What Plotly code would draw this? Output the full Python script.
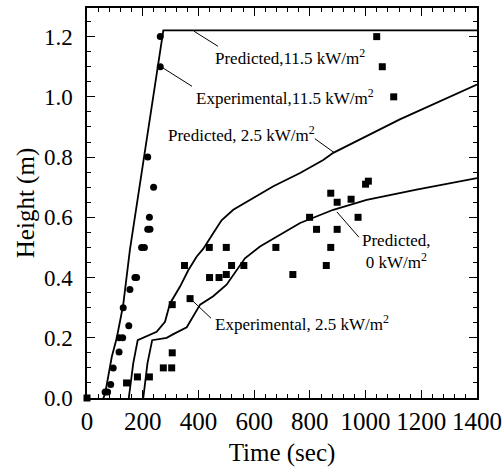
import plotly.graph_objects as go

# Experimental, 11.5 kW/m2 (circles)
exp115_t = [65, 74, 85, 94, 115, 116, 128, 150, 130, 154, 172, 178, 196, 206, 218, 226, 224, 239, 218, 263, 263]
exp115_h = [0.02, 0.02, 0.045, 0.10, 0.153, 0.20, 0.20, 0.24, 0.30, 0.36, 0.40, 0.40, 0.50, 0.50, 0.56, 0.56, 0.60, 0.70, 0.80, 1.10, 1.20]

# Experimental, 2.5 kW/m2 (squares)
exp25_t = [0, 142, 181, 224, 274, 304, 306, 306, 370, 350, 440, 474, 439, 500, 500, 519, 563,
           678, 739, 799, 824, 859, 875, 875, 898, 898, 948, 973, 1000, 1010, 1040, 1060, 1101]
exp25_h = [0.0, 0.05, 0.07, 0.07, 0.10, 0.10, 0.15, 0.31, 0.33, 0.44, 0.40, 0.40, 0.50, 0.50, 0.41, 0.44, 0.44,
           0.50, 0.41, 0.60, 0.56, 0.44, 0.50, 0.68, 0.65, 0.56, 0.66, 0.60, 0.71, 0.72, 1.20, 1.10, 1.00]

# Predicted, 11.5 kW/m2
pred115_t = [59, 65, 76, 89, 107, 130, 154, 202, 274, 1400]
pred115_h = [0.0, 0.015, 0.07, 0.137, 0.20, 0.309, 0.492, 0.79, 1.221, 1.221]

# Predicted, 2.5 kW/m2
pred25_t = [150, 166, 182, 202, 250, 280, 298, 334, 364, 394, 417, 453, 483, 525, 585, 669, 765, 848, 884, 1123, 1400]
pred25_h = [0.0, 0.115, 0.192, 0.20, 0.22, 0.253, 0.314, 0.37, 0.425, 0.47, 0.495, 0.547, 0.59, 0.625, 0.658, 0.703, 0.747, 0.79, 0.814, 0.925, 1.041]

# Predicted, 0 kW/m2
pred0_t = [202, 217, 234, 286, 310, 358, 406, 453, 501, 537, 567, 621, 681, 765, 884, 1004, 1183, 1400]
pred0_h = [0.0, 0.115, 0.192, 0.20, 0.212, 0.235, 0.31, 0.338, 0.376, 0.425, 0.464, 0.503, 0.536, 0.581, 0.625, 0.658, 0.692, 0.73]

x_ticks = [0, 200, 400, 600, 800, 1000, 1200, 1400]
y_ticks = [0.0, 0.2, 0.4, 0.6, 0.8, 1.0, 1.2]
y_ticklabels = ["0.0", "0.2", "0.4", "0.6", "0.8", "1.0", "1.2"]

FONT = "Liberation Serif"

fig = go.Figure()
line_style = dict(color="black", width=1.8)
for t, h in [(pred115_t, pred115_h), (pred25_t, pred25_h), (pred0_t, pred0_h)]:
    fig.add_trace(go.Scatter(x=t, y=h, mode="lines", line=line_style, showlegend=False, cliponaxis=False))

fig.add_trace(go.Scatter(x=exp115_t, y=exp115_h, mode="markers",
                         marker=dict(symbol="circle", size=7, color="black"),
                         showlegend=False, cliponaxis=False))
fig.add_trace(go.Scatter(x=exp25_t, y=exp25_h, mode="markers",
                         marker=dict(symbol="square", size=7, color="black"),
                         showlegend=False, cliponaxis=False))

ann_font = dict(family=FONT, size=17, color="black")
labels = [
    (452, 1.131, "Predicted,11.5 kW/m<sup>2</sup>", "left"),
    (384, 1.001, "Experimental,11.5 kW/m<sup>2</sup>", "left"),
    (284, 0.875, "Predicted, 2.5 kW/m<sup>2</sup>", "left"),
    (980, 0.488, "Predicted,<br>0 kW/m<sup>2</sup>", "center"),
    (452, 0.249, "Experimental, 2.5 kW/m<sup>2</sup>", "left"),
]
for x, y, txt, al in labels:
    fig.add_annotation(x=x, y=y, text=txt, showarrow=False, xanchor="left",
                       yanchor="middle", align=al, font=ann_font)

leaders = [
    (384, 1.218, 470, 1.168),
    (269, 1.098, 377, 1.035),
    (818, 0.861, 887, 0.815),
    (897, 0.618, 976, 0.534),
    (380, 0.322, 445, 0.265),
]
for x0, y0, x1, y1 in leaders:
    fig.add_shape(type="line", x0=x0, y0=y0, x1=x1, y1=y1, xref="x", yref="y",
                  line=dict(color="black", width=1))

axis_common = dict(showgrid=False, zeroline=False, showline=True, linecolor="black", linewidth=1.5,
                   mirror="allticks", ticks="inside", ticklen=8, tickwidth=1.2, tickcolor="black",
                   automargin=False)

fig.update_xaxes(range=[0, 1400], tickvals=x_ticks, ticktext=[str(v) for v in x_ticks],
                 tickfont=dict(family=FONT, size=25, color="black"),
                 title=dict(text="Time (sec)", font=dict(family=FONT, size=25, color="black"), standoff=10),
                 minor=dict(dtick=40, tick0=0, ticks="inside", ticklen=4, tickwidth=1, tickcolor="black"),
                 **axis_common)
fig.update_yaxes(range=[0, 1.295], tickvals=y_ticks, ticktext=y_ticklabels,
                 tickfont=dict(family=FONT, size=23, color="black"),
                 ticklabelstandoff=8,
                 title=dict(text="Height (m)", font=dict(family=FONT, size=25, color="black"), standoff=2),
                 minor=dict(dtick=0.05, tick0=0, ticks="inside", ticklen=4, tickwidth=1, tickcolor="black"),
                 **axis_common)

fig.update_layout(width=504, height=471, autosize=False,
                  font=dict(family=FONT, color="black"),
                  margin=dict(l=87, r=27, t=8, b=73),
                  plot_bgcolor="white", paper_bgcolor="white")

fig.write_html("out.html", config={"displayModeBar": False},
               post_script="document.body.style.margin='0';")
